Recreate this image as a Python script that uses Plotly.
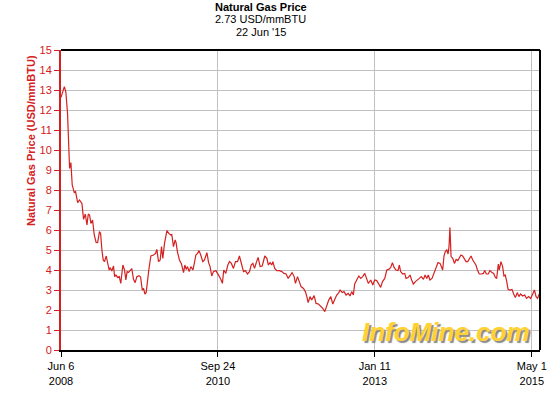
"""
Natural gas price chart (InfoMine style), Jun 2008 - Jun 2015.
"""

import plotly.graph_objects as go

RED = "#d42020"
GRID = "#c0c0c0"
FONT = "Liberation Sans, Arial, sans-serif"

dates = [
    "2008-06-06", "2008-06-24", "2008-07-02", "2008-07-11", "2008-07-22", "2008-07-29", "2008-08-05", "2008-08-16",
    "2008-08-23", "2008-09-03", "2008-09-13", "2008-09-26", "2008-10-05", "2008-10-14", "2008-10-23", "2008-10-30",
    "2008-11-06", "2008-11-13", "2008-11-22", "2008-12-01", "2008-12-11", "2008-12-19", "2008-12-29",
    "2009-01-04", "2009-01-11", "2009-01-18", "2009-01-25", "2009-02-03", "2009-02-12", "2009-02-19", "2009-02-24",
    "2009-03-05", "2009-03-14", "2009-03-20", "2009-03-27", "2009-04-05", "2009-04-14", "2009-04-22", "2009-05-03",
    "2009-05-12", "2009-05-19", "2009-05-26", "2009-06-02", "2009-06-11", "2009-06-20", "2009-06-29", "2009-07-08",
    "2009-07-17", "2009-07-28", "2009-08-06", "2009-08-15", "2009-08-22", "2009-08-29", "2009-09-05", "2009-09-12",
    "2009-09-19", "2009-09-30", "2009-10-14", "2009-10-25", "2009-11-01", "2009-11-10", "2009-11-19", "2009-11-26",
    "2009-12-03", "2009-12-12", "2009-12-25",
    "2010-01-04", "2010-01-15", "2010-01-20", "2010-01-29", "2010-02-07", "2010-02-12", "2010-02-19", "2010-03-02",
    "2010-03-13", "2010-03-24", "2010-03-31", "2010-04-07", "2010-04-14", "2010-04-23", "2010-05-02", "2010-05-13",
    "2010-05-20", "2010-05-29", "2010-06-07", "2010-06-15", "2010-06-24", "2010-07-05", "2010-07-14", "2010-07-27",
    "2010-08-05", "2010-08-13", "2010-08-22", "2010-08-31", "2010-09-13", "2010-09-23", "2010-10-02", "2010-10-11",
    "2010-10-18", "2010-10-25", "2010-11-05", "2010-11-16", "2010-11-25", "2010-12-05", "2010-12-16", "2010-12-27",
    "2011-01-07", "2011-01-17", "2011-01-28", "2011-02-08", "2011-02-18", "2011-03-01", "2011-03-12", "2011-03-21",
    "2011-03-30", "2011-04-08", "2011-04-16", "2011-04-27", "2011-05-08", "2011-05-19", "2011-06-02", "2011-06-13",
    "2011-06-21", "2011-06-30", "2011-07-09", "2011-07-15", "2011-07-25", "2011-08-05", "2011-08-19", "2011-09-01",
    "2011-09-13", "2011-09-24", "2011-10-05", "2011-10-15", "2011-10-26", "2011-11-06", "2011-11-13", "2011-11-24",
    "2011-12-04", "2011-12-13", "2011-12-26",
    "2012-01-05", "2012-01-13", "2012-01-20", "2012-01-30", "2012-02-08", "2012-02-21", "2012-03-02", "2012-03-15",
    "2012-03-27", "2012-04-07", "2012-04-18", "2012-04-29", "2012-05-09", "2012-05-20", "2012-05-31", "2012-06-10",
    "2012-06-21", "2012-07-02", "2012-07-09", "2012-07-20", "2012-07-30", "2012-08-10", "2012-08-21", "2012-08-31",
    "2012-09-09", "2012-09-18", "2012-09-25", "2012-10-06", "2012-10-17", "2012-10-27", "2012-11-07", "2012-11-18",
    "2012-11-28", "2012-12-07", "2012-12-20", "2012-12-31",
    "2013-01-10", "2013-01-21", "2013-02-04", "2013-02-11", "2013-02-21", "2013-03-05", "2013-03-16", "2013-03-26",
    "2013-04-06", "2013-04-15", "2013-04-24", "2013-05-04", "2013-05-15", "2013-05-22", "2013-05-29", "2013-06-09",
    "2013-06-20", "2013-06-27", "2013-07-08", "2013-07-18", "2013-07-27", "2013-08-05", "2013-08-16", "2013-08-27",
    "2013-09-06", "2013-09-17", "2013-09-28", "2013-10-07", "2013-10-16", "2013-10-24", "2013-11-02", "2013-11-13",
    "2013-11-24", "2013-12-04", "2013-12-15", "2013-12-26",
    "2014-01-02", "2014-01-09", "2014-01-16", "2014-01-23", "2014-01-31", "2014-02-07", "2014-02-12", "2014-02-17",
    "2014-02-23", "2014-03-04", "2014-03-13", "2014-03-22", "2014-03-31", "2014-04-08", "2014-04-17", "2014-04-26",
    "2014-05-05", "2014-05-14", "2014-05-23", "2014-06-01", "2014-06-10", "2014-06-19", "2014-06-28", "2014-07-06",
    "2014-07-14", "2014-07-24", "2014-08-04", "2014-08-15", "2014-08-22", "2014-08-31", "2014-09-10", "2014-09-19",
    "2014-09-30", "2014-10-09", "2014-10-18", "2014-10-25", "2014-11-03", "2014-11-08", "2014-11-17", "2014-11-26",
    "2014-12-03", "2014-12-10", "2014-12-18", "2014-12-25",
    "2015-01-04", "2015-01-15", "2015-01-24", "2015-02-02", "2015-02-13", "2015-02-21", "2015-03-02", "2015-03-13",
    "2015-03-24", "2015-04-03", "2015-04-14", "2015-04-25", "2015-05-06", "2015-05-15", "2015-05-24", "2015-06-01",
    "2015-06-10", "2015-06-14",
]

prices = [
    12.63, 13.17, 12.9, 11.83, 9.08, 9.37, 8.25, 7.87, 7.92, 7.37, 7.5, 7.33, 6.53, 6.8, 6.25, 6.8,
    6.75, 6.33, 6.5, 5.75, 5.38, 5.37, 5.92,
    5.83, 5.0, 4.5, 4.42, 4.7, 4.3, 4.0, 4.12, 3.95, 4.2, 3.67, 3.75, 3.63, 3.67, 3.33, 4.25,
    4.0, 3.5, 3.92, 3.88, 3.97, 4.07, 3.53, 3.37, 3.67, 3.72, 3.65, 3.0, 3.08, 2.8, 2.88, 3.5,
    4.0, 4.7, 4.75, 4.83, 5.03, 4.42, 4.5, 5.17, 4.58, 5.33, 5.97,
    5.83, 5.75, 5.78, 5.17, 5.5, 5.37, 4.92, 4.5, 4.3, 3.87, 4.25, 4.03, 4.17, 3.92, 4.17, 4.0,
    4.3, 4.75, 4.83, 4.97, 4.75, 4.42, 4.5, 4.87, 4.37, 4.17, 3.7, 3.92, 3.97, 3.83, 3.67, 3.5,
    3.33, 4.0, 3.83, 4.25, 4.42, 4.33, 4.08, 4.42,
    4.42, 4.7, 4.25, 3.92, 3.97, 3.8, 3.92, 4.25, 4.33, 4.08, 4.33, 4.63, 4.17, 4.2, 4.7, 4.58,
    4.25, 4.37, 4.25, 4.42, 4.08, 3.97, 3.97, 3.92, 3.83, 3.8, 3.58, 3.75, 3.87, 3.67, 3.33, 3.67,
    3.42, 3.17, 3.08,
    2.92, 2.67, 2.37, 2.67, 2.5, 2.72, 2.33, 2.3, 2.2, 2.08, 1.92, 2.25, 2.5, 2.67, 2.3, 2.53,
    2.75, 2.87, 3.0, 2.87, 2.92, 2.75, 2.83, 2.7, 2.92, 2.75, 3.3, 3.5, 3.7, 3.58, 3.67, 3.83,
    3.58, 3.33, 3.5, 3.25,
    3.5, 3.47, 3.25, 3.13, 3.42, 3.58, 4.0, 4.03, 4.13, 4.37, 4.13, 4.0, 3.97, 4.25, 3.92, 3.8,
    3.83, 3.58, 3.62, 3.75, 3.5, 3.3, 3.42, 3.53, 3.58, 3.67, 3.53, 3.75, 3.58, 3.75, 3.5, 3.58,
    3.83, 4.13, 4.37, 4.33,
    4.17, 4.0, 4.7, 4.92, 5.0, 4.8, 5.17, 6.13, 4.67, 4.58, 4.33, 4.53, 4.47, 4.63, 4.75, 4.7,
    4.58, 4.42, 4.42, 4.58, 4.7, 4.5, 4.37, 4.25, 4.0, 3.8, 3.8, 3.83, 3.97, 3.8, 3.8, 3.97,
    3.87, 3.83, 3.63, 3.58, 4.3, 4.0, 4.42, 4.17, 3.7, 3.75, 3.42, 3.03,
    3.0, 3.03, 2.8, 2.63, 2.87, 2.67, 2.8, 2.7, 2.75, 2.58, 2.67, 2.58, 2.8, 3.0, 2.67, 2.58,
    2.8, 2.73,
]

assert len(dates) == len(prices)

x_tick_vals = ["2008-06-06", "2010-09-24", "2013-01-11", "2015-05-01"]
x_tick_text = ["Jun 6<br>2008", "Sep 24<br>2010", "Jan 11<br>2013", "May 1<br>2015"]
y_tick_vals = list(range(0, 16))

title_lines = ["<b>Natural Gas Price</b>", "2.73 USD/mmBTU", "22 Jun '15"]

fig = go.Figure()

fig.add_trace(go.Scatter(
    x=dates,
    y=prices,
    mode="lines",
    line=dict(color=RED, width=1.2),
    hoverinfo="x+y",
))

fig.update_layout(
    width=560,
    height=400,
    margin=dict(l=61, r=20, t=50, b=50),
    paper_bgcolor="white",
    plot_bgcolor="white",
    showlegend=False,
    font=dict(family=FONT, size=11, color="black"),
    xaxis=dict(
        type="date",
        range=["2008-06-06", "2015-06-14"],
        tickvals=x_tick_vals,
        ticktext=x_tick_text,
        tickfont=dict(size=11, color="black"),
        ticks="outside",
        ticklen=5,
        tickcolor="black",
        showgrid=True,
        gridcolor=GRID,
        gridwidth=1,
        showline=True,
        linecolor="black",
        linewidth=2,
        zeroline=False,
    ),
    yaxis=dict(
        range=[0, 15],
        tickvals=y_tick_vals,
        tickfont=dict(size=11, color=RED),
        ticks="outside",
        ticklen=5,
        tickcolor=RED,
        showgrid=True,
        gridcolor=GRID,
        gridwidth=1,
        showline=True,
        linecolor=RED,
        linewidth=2,
        zeroline=False,
    ),
    shapes=[
        dict(type="line", xref="paper", yref="paper", x0=0, x1=1, y0=1, y1=1,
             line=dict(color="black", width=2)),
        dict(type="line", xref="paper", yref="paper", x0=1, x1=1, y0=0, y1=1,
             line=dict(color="black", width=2)),
    ],
)

# titulo en tres lineas, centrado un poco a la izquierda como el original
for i, txt in enumerate(title_lines):
    fig.add_annotation(
        text=txt, xref="paper", yref="paper",
        x=0.4175, y=1.143 - i * 0.041,
        xanchor="center", yanchor="middle", showarrow=False,
        font=dict(family=FONT, size=11, color="black"),
    )

fig.add_annotation(
    text="<b>Natural Gas Price (USD/mmBTU)</b>",
    xref="paper", yref="paper", x=-0.0626, y=0.697,
    xanchor="center", yanchor="middle", textangle=-90, showarrow=False,
    font=dict(family=FONT, size=11, color=RED),
)

# marca de agua InfoMine (sombra gris via font.shadow)
fig.add_annotation(
    text="<b><i>InfoMine.com</i></b>",
    xref="paper", yref="paper", x=0.804, y=0.06,
    xanchor="center", yanchor="middle", showarrow=False,
    font=dict(family=FONT, size=26, color="#ffd232", shadow="2px 2px 1px #8a8a8a"),
)

# sin margen del body para que la figura quede en (0, 0)
fig.write_html(
    "out.html",
    config={"displayModeBar": False},
    post_script="document.body.style.margin = '0';",
)
